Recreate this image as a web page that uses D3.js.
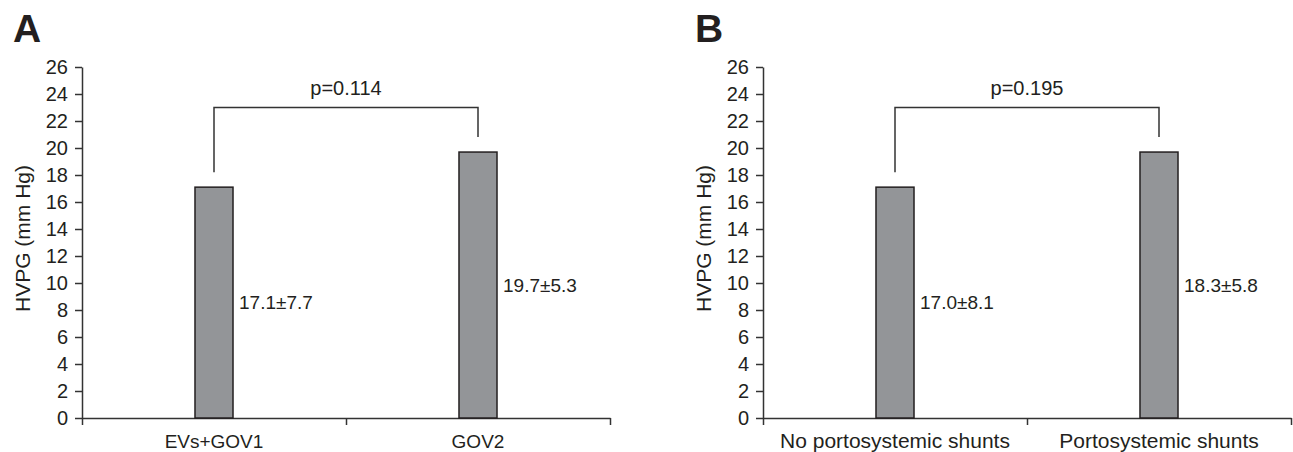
<!DOCTYPE html>
<html>
<head>
<meta charset="utf-8">
<script src="https://cdn.jsdelivr.net/npm/d3@7"></script>
<style>
  body { margin: 0; background: #fff; }
  text { font-family: "Liberation Sans", Arial, Helvetica, sans-serif; fill: #231f20; }
</style>
</head>
<body>
<div id="chart"></div>
<script>
// Valores
const yTicks = [0, 2, 4, 6, 8, 10, 12, 14, 16, 18, 20, 22, 24, 26]
const yTitle = "HVPG (mm Hg)"

const groupsA = ["EVs+GOV1", "GOV2"]
const meansA = [17.1, 19.7]
const labelsA = ["17.1±7.7", "19.7±5.3"]
const pValueA = "p=0.114"

const groupsB = ["No portosystemic shunts", "Portosystemic shunts"]
const meansB = [17.1, 19.7]
const labelsB = ["17.0±8.1", "18.3±5.8"]
const pValueB = "p=0.195"

// nível do colchete da comparação (em mm Hg)
const bracketLevel = 23

function drawPanel(svg, opt) {
    const width = 528,
        top = 67,
        height = 418 - top

    const g = svg.append("g")
        .attr("transform", "translate(" + opt.left + "," + top + ")")

    const y = d3.scaleLinear().domain([0, 26]).range([height, 0])
    const x = d3.scaleBand().domain(opt.groups).range([0, width])
        .paddingInner(0.856).paddingOuter(0.428)
    // escala das bordas das categorias (marcas do eixo X)
    const xEdge = d3.scaleLinear().domain([0, opt.groups.length]).range([0, width])

    // letra do painel
    svg.append("text")
        .attr("x", opt.left - opt.letterOffset)
        .attr("y", 42)
        .style("font-family", "'Liberation Sans Narrow', 'Arial Narrow', sans-serif")
        .style("font-weight", "bold")
        .style("font-size", "39px")
        .text(opt.letter)

    // eixo Y
    const yAxis = g.append("g")
        .call(d3.axisLeft(y).tickValues(yTicks).tickSize(7).tickPadding(7).tickSizeOuter(0))
    yAxis.selectAll("path, line").attr("stroke", "#333").attr("stroke-width", 1.5)
    yAxis.selectAll("text").style("font-size", "20px").attr("fill", "#231f20")
        .attr("font-family", null)

    // eixo X
    const xAxis = g.append("g")
        .attr("transform", "translate(0," + height + ")")
        .call(d3.axisBottom(xEdge).tickValues(d3.range(opt.groups.length + 1))
            .tickSize(7).tickSizeOuter(0).tickFormat(""))
    xAxis.selectAll("path, line").attr("stroke", "#333").attr("stroke-width", 1.5)

    // nomes das categorias
    g.selectAll(".cat")
        .data(opt.groups)
        .enter().append("text")
        .attr("class", "cat")
        .attr("x", d => x(d) + x.bandwidth() / 2)
        .attr("y", height + 30)
        .attr("text-anchor", "middle")
        .style("font-size", opt.catSize + "px")
        .text(d => d)

    // título do eixo Y
    g.append("text")
        .attr("transform", "translate(" + (-52) + "," + (height / 2 - 4) + ") rotate(-90)")
        .attr("text-anchor", "middle")
        .style("font-size", "21px")
        .text(yTitle)

    // barras
    g.selectAll(".bar")
        .data(opt.means)
        .enter().append("rect")
        .attr("class", "bar")
        .attr("x", (d, i) => x(opt.groups[i]))
        .attr("y", d => y(d))
        .attr("width", x.bandwidth())
        .attr("height", d => height - y(d))
        .attr("fill", "#939598")
        .attr("stroke", "#231f20")
        .attr("stroke-width", 1.5)

    // rótulos de média ± DP
    g.selectAll(".val")
        .data(opt.labels)
        .enter().append("text")
        .attr("class", "val")
        .attr("x", (d, i) => x(opt.groups[i]) + x.bandwidth() + 6)
        .attr("y", (d, i) => y(opt.means[i] / 2))
        .attr("dy", "0.36em")
        .style("font-size", "19px")
        .text(d => d)

    // colchete de comparação
    const cx = opt.groups.map(d => x(d) + x.bandwidth() / 2)
    const yb = y(bracketLevel)
    g.append("path")
        .attr("d", "M" + cx[0] + "," + (y(opt.means[0]) - 15) +
            "V" + yb + "H" + cx[1] + "V" + (y(opt.means[1]) - 15))
        .attr("fill", "none")
        .attr("stroke", "#333")
        .attr("stroke-width", 1.5)

    g.append("text")
        .attr("x", (cx[0] + cx[1]) / 2)
        .attr("y", yb - 13)
        .attr("text-anchor", "middle")
        .style("font-size", "20px")
        .text(opt.p)
}

const svg = d3.select("#chart").append("svg")
    .attr("width", 1293)
    .attr("height", 452)

drawPanel(svg, { left: 82, letter: "A", letterOffset: 69, groups: groupsA, means: meansA, labels: labelsA, p: pValueA, catSize: 19 })
drawPanel(svg, { left: 763, letter: "B", letterOffset: 68, groups: groupsB, means: meansB, labels: labelsB, p: pValueB, catSize: 21 })
</script>
</body>
</html>
